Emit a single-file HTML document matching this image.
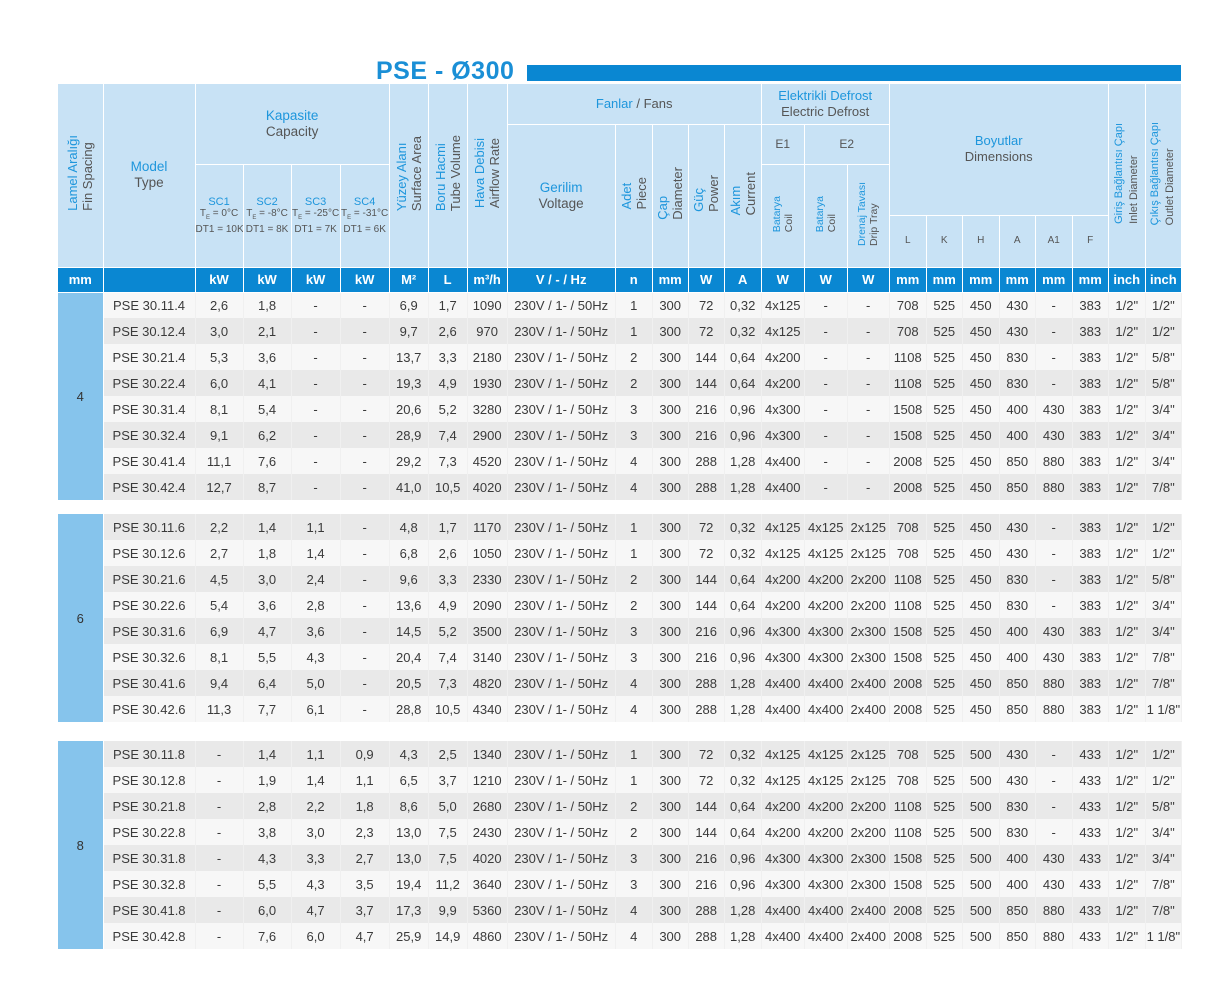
<!DOCTYPE html>
<html><head><meta charset="utf-8"><style>
body{margin:0;width:1231px;height:1000px;background:#fff;position:relative;font-family:"Liberation Sans",sans-serif;overflow:hidden}
.title{position:absolute;left:376px;top:57px;font-size:25px;font-weight:bold;color:#1a8fd6;letter-spacing:0.5px}
.bar{position:absolute;left:527px;top:65px;width:654px;height:16px;background:#0a87d2}
table{position:absolute;left:58px;top:84px;border-collapse:collapse;table-layout:fixed;width:1124px}
td{padding:0;text-align:center;border-right:1px solid #fff;border-bottom:1px solid #fff;overflow:hidden;white-space:nowrap;box-sizing:border-box}
.h td{background:#c8e2f5;color:#555;font-size:12.5px;line-height:16px}
.b{color:#1e96dc}
.v{display:inline-block;writing-mode:vertical-rl;transform:rotate(180deg);text-align:left;line-height:15px}
.s td{font-size:10px;line-height:11px}
.u td{background:#0a87d2;color:#fff;font-size:13px;font-weight:bold;height:25px;border-bottom:1px solid #fff}
.d td{height:26px;font-size:13px;color:#3a3a3a;border:none;border-right:1px solid #f0f0f0}
.d.g td{background:#e9e9e9}
.d.l td{background:#f7f7f7}
td.fin{background:#86c4ec!important;color:#333;border-right:1px solid #fff}
.gap td{height:14px;background:#fff;border:none}
</style></head><body>
<div class="title">PSE - Ø300</div><div class="bar"></div>
<table>
<colgroup><col style="width:45px"><col style="width:92px"><col style="width:48px"><col style="width:48px"><col style="width:49px"><col style="width:49px"><col style="width:39px"><col style="width:39px"><col style="width:40px"><col style="width:108px"><col style="width:37px"><col style="width:36px"><col style="width:36px"><col style="width:37px"><col style="width:43px"><col style="width:43px"><col style="width:42px"><col style="width:37px"><col style="width:36px"><col style="width:37px"><col style="width:36px"><col style="width:37px"><col style="width:36px"><col style="width:37px"><col style="width:36px"></colgroup>
<tr class="h" style="height:40px">
<td rowspan="4"><span class="v" style="font-size:13px"><span class="b">Lamel Aralığı</span><br>Fin Spacing</span></td>
<td rowspan="4" style="font-size:13.5px"><span class="b">Model</span><br>Type</td>
<td colspan="4" rowspan="2" style="font-size:13.5px"><span class="b">Kapasite</span><br>Capacity</td>
<td rowspan="4"><span class="v" style="font-size:13px"><span class="b">Yüzey Alanı</span><br>Surface Area</span></td>
<td rowspan="4"><span class="v" style="font-size:13px"><span class="b">Boru Hacmi</span><br>Tube Volume</span></td>
<td rowspan="4"><span class="v" style="font-size:13px"><span class="b">Hava Debisi</span><br>Airflow Rate</span></td>
<td colspan="5" style="font-size:13px"><span class="b">Fanlar</span> / Fans</td>
<td colspan="3" style="font-size:13px"><span class="b">Elektrikli Defrost</span><br>Electric Defrost</td>
<td colspan="6" rowspan="3" style="font-size:13px"><span class="b">Boyutlar</span><br>Dimensions</td>
<td rowspan="4"><span class="v" style="font-size:11px"><span class="b">Giriş Bağlantısı Çapı</span><br>Inlet Diameter</span></td>
<td rowspan="4"><span class="v" style="font-size:11px"><span class="b">Çıkış Bağlantısı Çapı</span><br>Outlet Diameter</span></td>
</tr>
<tr class="h" style="height:40px">
<td rowspan="3" style="font-size:13.5px"><span class="b">Gerilim</span><br>Voltage</td>
<td rowspan="3"><span class="v" style="font-size:13px"><span class="b">Adet</span><br>Piece</span></td>
<td rowspan="3"><span class="v" style="font-size:13px"><span class="b">Çap</span><br>Diameter</span></td>
<td rowspan="3"><span class="v" style="font-size:13px"><span class="b">Güç</span><br>Power</span></td>
<td rowspan="3"><span class="v" style="font-size:13px"><span class="b">Akım</span><br>Current</span></td>
<td class="b" style="font-size:12px">E1</td>
<td colspan="2" class="b" style="font-size:12px">E2</td>
</tr>
<tr class="h s" style="height:51px">
<td rowspan="2"><span class="b" style="font-size:11px">SC1</span><br>T<sub style="font-size:6px">E</sub> = 0°C<br>DT1 = 10K</td>
<td rowspan="2"><span class="b" style="font-size:11px">SC2</span><br>T<sub style="font-size:6px">E</sub> = -8°C<br>DT1 = 8K</td>
<td rowspan="2"><span class="b" style="font-size:11px">SC3</span><br>T<sub style="font-size:6px">E</sub> = -25°C<br>DT1 = 7K</td>
<td rowspan="2"><span class="b" style="font-size:11px">SC4</span><br>T<sub style="font-size:6px">E</sub> = -31°C<br>DT1 = 6K</td>
<td rowspan="2"><span class="v" style="font-size:10.5px;line-height:12px"><span class="b">Batarya</span><br>Coil</span></td>
<td rowspan="2"><span class="v" style="font-size:10.5px;line-height:12px"><span class="b">Batarya</span><br>Coil</span></td>
<td rowspan="2"><span class="v" style="font-size:10.5px;line-height:12px"><span class="b">Drenaj Tavası</span><br>Drip Tray</span></td>
</tr>
<tr class="h" style="height:52px;font-size:10px">
<td style="font-size:10px">L</td><td style="font-size:10px">K</td><td style="font-size:10px">H</td><td style="font-size:10px">A</td><td style="font-size:10px">A1</td><td style="font-size:10px">F</td>
</tr>
<tr class="u"><td>mm</td><td></td><td>kW</td><td>kW</td><td>kW</td><td>kW</td><td>M²</td><td>L</td><td>m³/h</td><td>V / - / Hz</td><td>n</td><td>mm</td><td>W</td><td>A</td><td>W</td><td>W</td><td>W</td><td>mm</td><td>mm</td><td>mm</td><td>mm</td><td>mm</td><td>mm</td><td>inch</td><td>inch</td></tr>

<tr class="d l"><td class="fin" rowspan="8">4</td><td>PSE 30.11.4</td><td>2,6</td><td>1,8</td><td>-</td><td>-</td><td>6,9</td><td>1,7</td><td>1090</td><td>230V / 1- / 50Hz</td><td>1</td><td>300</td><td>72</td><td>0,32</td><td>4x125</td><td>-</td><td>-</td><td>708</td><td>525</td><td>450</td><td>430</td><td>-</td><td>383</td><td>1/2"</td><td>1/2"</td></tr>
<tr class="d g"><td>PSE 30.12.4</td><td>3,0</td><td>2,1</td><td>-</td><td>-</td><td>9,7</td><td>2,6</td><td>970</td><td>230V / 1- / 50Hz</td><td>1</td><td>300</td><td>72</td><td>0,32</td><td>4x125</td><td>-</td><td>-</td><td>708</td><td>525</td><td>450</td><td>430</td><td>-</td><td>383</td><td>1/2"</td><td>1/2"</td></tr>
<tr class="d l"><td>PSE 30.21.4</td><td>5,3</td><td>3,6</td><td>-</td><td>-</td><td>13,7</td><td>3,3</td><td>2180</td><td>230V / 1- / 50Hz</td><td>2</td><td>300</td><td>144</td><td>0,64</td><td>4x200</td><td>-</td><td>-</td><td>1108</td><td>525</td><td>450</td><td>830</td><td>-</td><td>383</td><td>1/2"</td><td>5/8"</td></tr>
<tr class="d g"><td>PSE 30.22.4</td><td>6,0</td><td>4,1</td><td>-</td><td>-</td><td>19,3</td><td>4,9</td><td>1930</td><td>230V / 1- / 50Hz</td><td>2</td><td>300</td><td>144</td><td>0,64</td><td>4x200</td><td>-</td><td>-</td><td>1108</td><td>525</td><td>450</td><td>830</td><td>-</td><td>383</td><td>1/2"</td><td>5/8"</td></tr>
<tr class="d l"><td>PSE 30.31.4</td><td>8,1</td><td>5,4</td><td>-</td><td>-</td><td>20,6</td><td>5,2</td><td>3280</td><td>230V / 1- / 50Hz</td><td>3</td><td>300</td><td>216</td><td>0,96</td><td>4x300</td><td>-</td><td>-</td><td>1508</td><td>525</td><td>450</td><td>400</td><td>430</td><td>383</td><td>1/2"</td><td>3/4"</td></tr>
<tr class="d g"><td>PSE 30.32.4</td><td>9,1</td><td>6,2</td><td>-</td><td>-</td><td>28,9</td><td>7,4</td><td>2900</td><td>230V / 1- / 50Hz</td><td>3</td><td>300</td><td>216</td><td>0,96</td><td>4x300</td><td>-</td><td>-</td><td>1508</td><td>525</td><td>450</td><td>400</td><td>430</td><td>383</td><td>1/2"</td><td>3/4"</td></tr>
<tr class="d l"><td>PSE 30.41.4</td><td>11,1</td><td>7,6</td><td>-</td><td>-</td><td>29,2</td><td>7,3</td><td>4520</td><td>230V / 1- / 50Hz</td><td>4</td><td>300</td><td>288</td><td>1,28</td><td>4x400</td><td>-</td><td>-</td><td>2008</td><td>525</td><td>450</td><td>850</td><td>880</td><td>383</td><td>1/2"</td><td>3/4"</td></tr>
<tr class="d g"><td>PSE 30.42.4</td><td>12,7</td><td>8,7</td><td>-</td><td>-</td><td>41,0</td><td>10,5</td><td>4020</td><td>230V / 1- / 50Hz</td><td>4</td><td>300</td><td>288</td><td>1,28</td><td>4x400</td><td>-</td><td>-</td><td>2008</td><td>525</td><td>450</td><td>850</td><td>880</td><td>383</td><td>1/2"</td><td>7/8"</td></tr>
<tr class="gap"><td colspan="25"></td></tr>
<tr class="d g"><td class="fin" rowspan="8">6</td><td>PSE 30.11.6</td><td>2,2</td><td>1,4</td><td>1,1</td><td>-</td><td>4,8</td><td>1,7</td><td>1170</td><td>230V / 1- / 50Hz</td><td>1</td><td>300</td><td>72</td><td>0,32</td><td>4x125</td><td>4x125</td><td>2x125</td><td>708</td><td>525</td><td>450</td><td>430</td><td>-</td><td>383</td><td>1/2"</td><td>1/2"</td></tr>
<tr class="d l"><td>PSE 30.12.6</td><td>2,7</td><td>1,8</td><td>1,4</td><td>-</td><td>6,8</td><td>2,6</td><td>1050</td><td>230V / 1- / 50Hz</td><td>1</td><td>300</td><td>72</td><td>0,32</td><td>4x125</td><td>4x125</td><td>2x125</td><td>708</td><td>525</td><td>450</td><td>430</td><td>-</td><td>383</td><td>1/2"</td><td>1/2"</td></tr>
<tr class="d g"><td>PSE 30.21.6</td><td>4,5</td><td>3,0</td><td>2,4</td><td>-</td><td>9,6</td><td>3,3</td><td>2330</td><td>230V / 1- / 50Hz</td><td>2</td><td>300</td><td>144</td><td>0,64</td><td>4x200</td><td>4x200</td><td>2x200</td><td>1108</td><td>525</td><td>450</td><td>830</td><td>-</td><td>383</td><td>1/2"</td><td>5/8"</td></tr>
<tr class="d l"><td>PSE 30.22.6</td><td>5,4</td><td>3,6</td><td>2,8</td><td>-</td><td>13,6</td><td>4,9</td><td>2090</td><td>230V / 1- / 50Hz</td><td>2</td><td>300</td><td>144</td><td>0,64</td><td>4x200</td><td>4x200</td><td>2x200</td><td>1108</td><td>525</td><td>450</td><td>830</td><td>-</td><td>383</td><td>1/2"</td><td>3/4"</td></tr>
<tr class="d g"><td>PSE 30.31.6</td><td>6,9</td><td>4,7</td><td>3,6</td><td>-</td><td>14,5</td><td>5,2</td><td>3500</td><td>230V / 1- / 50Hz</td><td>3</td><td>300</td><td>216</td><td>0,96</td><td>4x300</td><td>4x300</td><td>2x300</td><td>1508</td><td>525</td><td>450</td><td>400</td><td>430</td><td>383</td><td>1/2"</td><td>3/4"</td></tr>
<tr class="d l"><td>PSE 30.32.6</td><td>8,1</td><td>5,5</td><td>4,3</td><td>-</td><td>20,4</td><td>7,4</td><td>3140</td><td>230V / 1- / 50Hz</td><td>3</td><td>300</td><td>216</td><td>0,96</td><td>4x300</td><td>4x300</td><td>2x300</td><td>1508</td><td>525</td><td>450</td><td>400</td><td>430</td><td>383</td><td>1/2"</td><td>7/8"</td></tr>
<tr class="d g"><td>PSE 30.41.6</td><td>9,4</td><td>6,4</td><td>5,0</td><td>-</td><td>20,5</td><td>7,3</td><td>4820</td><td>230V / 1- / 50Hz</td><td>4</td><td>300</td><td>288</td><td>1,28</td><td>4x400</td><td>4x400</td><td>2x400</td><td>2008</td><td>525</td><td>450</td><td>850</td><td>880</td><td>383</td><td>1/2"</td><td>7/8"</td></tr>
<tr class="d l"><td>PSE 30.42.6</td><td>11,3</td><td>7,7</td><td>6,1</td><td>-</td><td>28,8</td><td>10,5</td><td>4340</td><td>230V / 1- / 50Hz</td><td>4</td><td>300</td><td>288</td><td>1,28</td><td>4x400</td><td>4x400</td><td>2x400</td><td>2008</td><td>525</td><td>450</td><td>850</td><td>880</td><td>383</td><td>1/2"</td><td>1 1/8"</td></tr>
<tr class="gap"><td colspan="25" style="height:19px"></td></tr>
<tr class="d g"><td class="fin" rowspan="8">8</td><td>PSE 30.11.8</td><td>-</td><td>1,4</td><td>1,1</td><td>0,9</td><td>4,3</td><td>2,5</td><td>1340</td><td>230V / 1- / 50Hz</td><td>1</td><td>300</td><td>72</td><td>0,32</td><td>4x125</td><td>4x125</td><td>2x125</td><td>708</td><td>525</td><td>500</td><td>430</td><td>-</td><td>433</td><td>1/2"</td><td>1/2"</td></tr>
<tr class="d l"><td>PSE 30.12.8</td><td>-</td><td>1,9</td><td>1,4</td><td>1,1</td><td>6,5</td><td>3,7</td><td>1210</td><td>230V / 1- / 50Hz</td><td>1</td><td>300</td><td>72</td><td>0,32</td><td>4x125</td><td>4x125</td><td>2x125</td><td>708</td><td>525</td><td>500</td><td>430</td><td>-</td><td>433</td><td>1/2"</td><td>1/2"</td></tr>
<tr class="d g"><td>PSE 30.21.8</td><td>-</td><td>2,8</td><td>2,2</td><td>1,8</td><td>8,6</td><td>5,0</td><td>2680</td><td>230V / 1- / 50Hz</td><td>2</td><td>300</td><td>144</td><td>0,64</td><td>4x200</td><td>4x200</td><td>2x200</td><td>1108</td><td>525</td><td>500</td><td>830</td><td>-</td><td>433</td><td>1/2"</td><td>5/8"</td></tr>
<tr class="d l"><td>PSE 30.22.8</td><td>-</td><td>3,8</td><td>3,0</td><td>2,3</td><td>13,0</td><td>7,5</td><td>2430</td><td>230V / 1- / 50Hz</td><td>2</td><td>300</td><td>144</td><td>0,64</td><td>4x200</td><td>4x200</td><td>2x200</td><td>1108</td><td>525</td><td>500</td><td>830</td><td>-</td><td>433</td><td>1/2"</td><td>3/4"</td></tr>
<tr class="d g"><td>PSE 30.31.8</td><td>-</td><td>4,3</td><td>3,3</td><td>2,7</td><td>13,0</td><td>7,5</td><td>4020</td><td>230V / 1- / 50Hz</td><td>3</td><td>300</td><td>216</td><td>0,96</td><td>4x300</td><td>4x300</td><td>2x300</td><td>1508</td><td>525</td><td>500</td><td>400</td><td>430</td><td>433</td><td>1/2"</td><td>3/4"</td></tr>
<tr class="d l"><td>PSE 30.32.8</td><td>-</td><td>5,5</td><td>4,3</td><td>3,5</td><td>19,4</td><td>11,2</td><td>3640</td><td>230V / 1- / 50Hz</td><td>3</td><td>300</td><td>216</td><td>0,96</td><td>4x300</td><td>4x300</td><td>2x300</td><td>1508</td><td>525</td><td>500</td><td>400</td><td>430</td><td>433</td><td>1/2"</td><td>7/8"</td></tr>
<tr class="d g"><td>PSE 30.41.8</td><td>-</td><td>6,0</td><td>4,7</td><td>3,7</td><td>17,3</td><td>9,9</td><td>5360</td><td>230V / 1- / 50Hz</td><td>4</td><td>300</td><td>288</td><td>1,28</td><td>4x400</td><td>4x400</td><td>2x400</td><td>2008</td><td>525</td><td>500</td><td>850</td><td>880</td><td>433</td><td>1/2"</td><td>7/8"</td></tr>
<tr class="d l"><td>PSE 30.42.8</td><td>-</td><td>7,6</td><td>6,0</td><td>4,7</td><td>25,9</td><td>14,9</td><td>4860</td><td>230V / 1- / 50Hz</td><td>4</td><td>300</td><td>288</td><td>1,28</td><td>4x400</td><td>4x400</td><td>2x400</td><td>2008</td><td>525</td><td>500</td><td>850</td><td>880</td><td>433</td><td>1/2"</td><td>1 1/8"</td></tr>
</table>
</body></html>
